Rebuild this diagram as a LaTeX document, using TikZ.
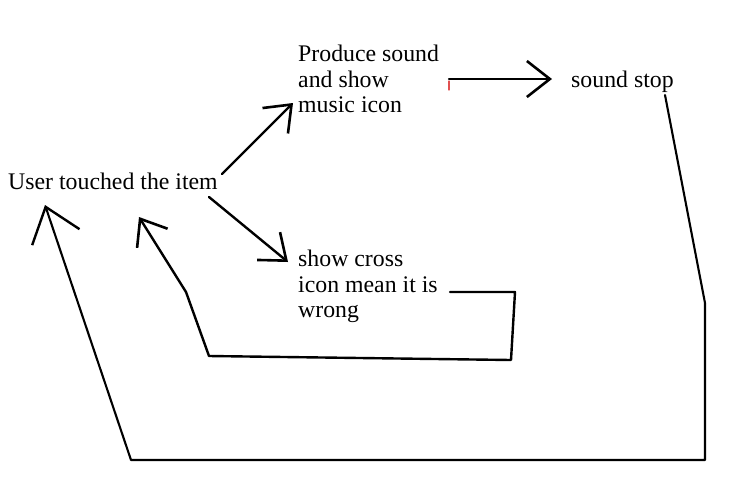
\documentclass[tikz,border=0pt]{standalone}
\usepackage{fontspec}
\setmainfont{Liberation Serif}
\usetikzlibrary{arrows.meta}
\definecolor{tick}{RGB}{225,80,80}
\begin{document}
\begin{tikzpicture}[x=1pt, y=-1pt, line join=round, line cap=round, font=\fontsize{23.8}{25.5}\selectfont,
    txt/.style={anchor=base west, inner sep=0pt, align=left},
    hand/.style={line width=2.4pt, -{Straight Barb[length=23pt,width=36pt,line width=2.6pt]}},
    bighand/.style={line width=2.1pt, -{Straight Barb[length=32pt,width=50pt,line width=2.4pt]}}]
    \useasboundingbox (0,0) rectangle (737,499);
    \node[txt] (user) at (8,189) {User touched the item};
    \node[txt] (sound) at (298,112.7) {Produce sound\\and show\\music icon};
    \node[txt] (stop) at (571,87) {sound stop};
    \node[txt] (cross) at (298,317.7) {show cross\\icon mean it is\\wrong};
    \coordinate (u1) at (222,174); \coordinate (p1) at (293,103);
    \coordinate (u2) at (209,197); \coordinate (c1) at (288,262);
    \coordinate (p2) at (449,79);  \coordinate (s1) at (552,79);
    \coordinate (c2) at (450,292); \coordinate (u3) at (139,217);
    \coordinate (s2) at (665,95);  \coordinate (u4) at (45,205);
    \draw[hand] (u1) -- (p1);
    \draw[hand] (u2) -- (c1);
    \draw[hand] (p2) -- (s1);
    \draw[hand] (c2) -- (515,292) -- (511,360) -- (209,356) -- (186,292) -- (u3);
    \draw[bighand] (s2) -- (705,303) -- (705,460) -- (131,460) -- (u4);
    \draw[tick, line width=1.2pt] (449,81) -- (449,90);
\end{tikzpicture}
\end{document}
